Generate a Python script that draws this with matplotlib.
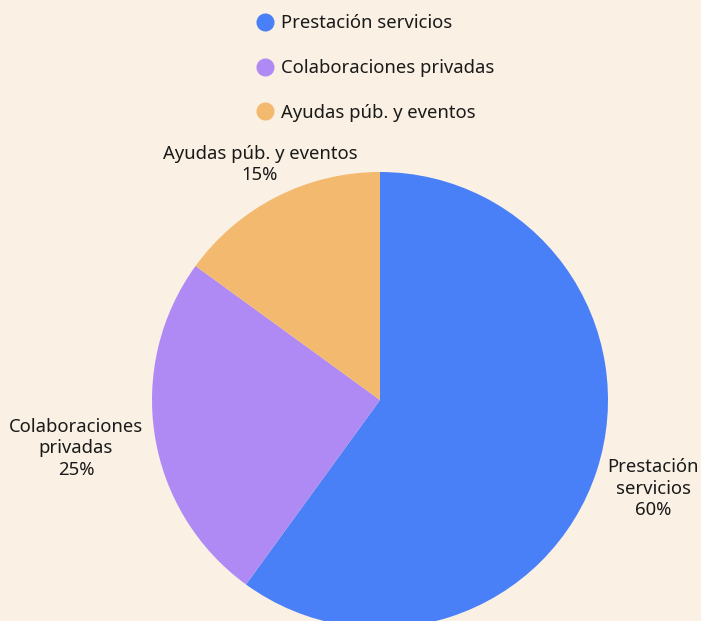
import matplotlib
matplotlib.use("Agg")
import matplotlib.pyplot as plt
from matplotlib.lines import Line2D
import numpy as np

categories = ["Prestación servicios", "Colaboraciones privadas", "Ayudas púb. y eventos"]
label_texts = ["Prestación\nservicios", "Colaboraciones\nprivadas", "Ayudas púb. y eventos"]
values = [60, 25, 15]
colors = ["#4A80F7", "#B08AF4", "#F3B96E"]
label_dist = [1.26, 1.35, 1.16]

BG = "#FAF1E4"
W, H = 701, 621
plt.rcParams['font.family'] = ['Noto Sans', 'DejaVu Sans']

fig = plt.figure(figsize=(W/100, H/100), dpi=100, facecolor=BG)
ax = fig.add_axes([0, 0, 1, 1])
ax.set_facecolor(BG)

cx, cy, r = 380, H - 400, 228
wedges, _ = ax.pie(values, colors=colors, startangle=90, counterclock=False,
                   center=(cx, cy), radius=r, frame=True,
                   wedgeprops=dict(linewidth=0))
ax.set_xlim(0, W)
ax.set_ylim(0, H)
ax.set_aspect('equal')
ax.axis('off')

for w, txt, v, d in zip(wedges, label_texts, values, label_dist):
    ang = np.deg2rad((w.theta1 + w.theta2) / 2)
    x = cx + d * r * np.cos(ang)
    y = cy + d * r * np.sin(ang)
    ax.text(x, y, f"{txt}\n{v}%", ha='center', va='center', fontsize=13.3,
            color="#1a1a1a", linespacing=1.25)

handles = [Line2D([], [], marker='o', linestyle='none', markersize=12,
                  markerfacecolor=c, markeredgecolor=c) for c in colors]
fig.legend(handles, categories, loc='upper center', bbox_to_anchor=(0.535, 0.995),
           frameon=False, fontsize=13.3, labelspacing=1.45, handletextpad=0.35,
           handlelength=1.0, labelcolor="#1a1a1a", borderaxespad=0.2)

fig.savefig("out.png", dpi=100, facecolor=BG)
